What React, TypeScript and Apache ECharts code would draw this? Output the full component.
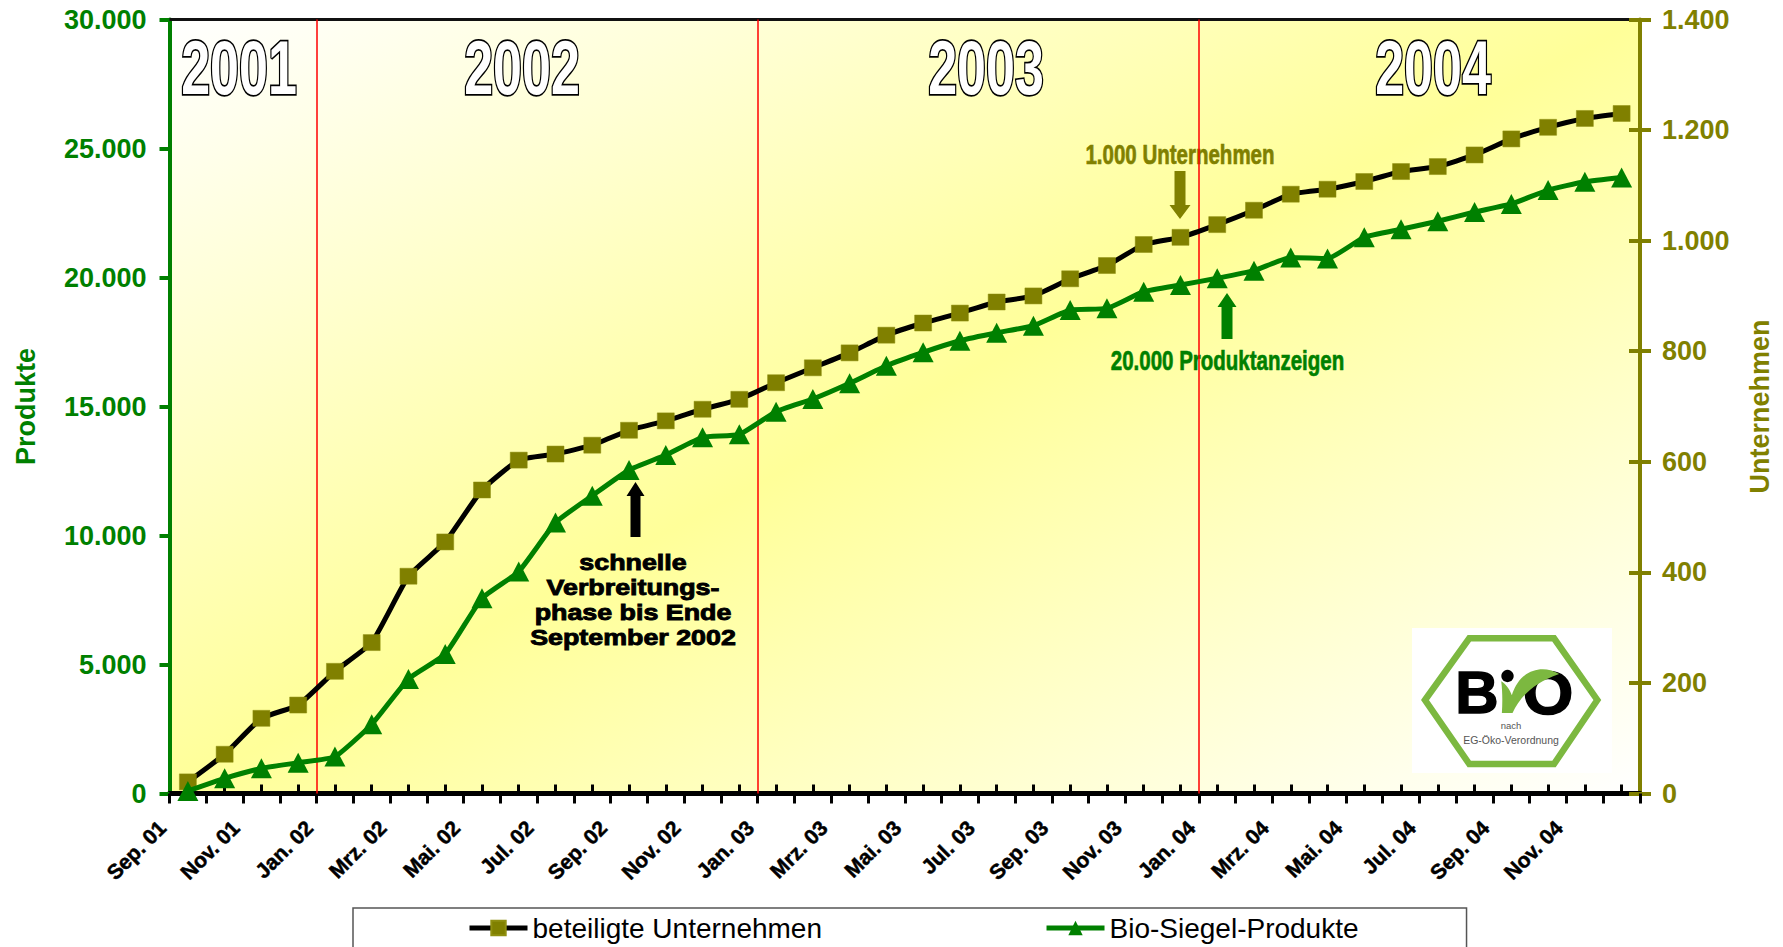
import React, { useEffect, useRef } from "react";
import * as echarts from "echarts";

const months = [
  "Sep. 01","Okt. 01","Nov. 01","Dez. 01","Jan. 02","Feb. 02","Mrz. 02","Apr. 02","Mai. 02","Jun. 02","Jul. 02","Aug. 02",
  "Sep. 02","Okt. 02","Nov. 02","Dez. 02","Jan. 03","Feb. 03","Mrz. 03","Apr. 03","Mai. 03","Jun. 03","Jul. 03","Aug. 03",
  "Sep. 03","Okt. 03","Nov. 03","Dez. 03","Jan. 04","Feb. 04","Mrz. 04","Apr. 04","Mai. 04","Jun. 04","Jul. 04","Aug. 04",
  "Sep. 04","Okt. 04","Nov. 04","Dez. 04",
];
const tickMonths = [...months, " "];
const companies = [
  21, 71, 136, 160, 221, 273, 393, 455, 549, 603, 614, 630, 657, 674, 695, 713, 743, 770, 797, 829,
  851, 869, 889, 900, 931, 955, 993, 1006, 1029, 1055, 1084, 1093, 1107, 1125, 1134, 1155, 1184, 1205, 1221, 1230,
];
const products = [
  100, 590, 975, 1195, 1430, 2680, 4440, 5407, 7565, 8600, 10500, 11545, 12540, 13120, 13805, 13920, 14800, 15290, 15900, 16580,
  17100, 17550, 17860, 18130, 18740, 18805, 19450, 19710, 19970, 20265, 20780, 20740, 21560, 21870, 22180, 22540, 22850, 23390, 23710, 23880,
];
const yearStarts = ["Jan. 02", "Jan. 03", "Jan. 04"];
const years = [
  { label: "2001", x: 239 },
  { label: "2002", x: 522 },
  { label: "2003", x: 986 },
  { label: "2004", x: 1433 },
];

const GREEN = "#008000";
const OLIVE = "#808000";
const FONT = "'Liberation Sans', Arial, sans-serif";
const de = (v: number) => String(v).replace(/\B(?=(\d{3})+$)/g, ".");

const swoosh =
  "M366 309 L398 309 C418 268 452 222 538 192 C505 172 462 172 430 200 C412 216 402 238 396 256 C390 240 380 224 364 214 C368 245 368 280 366 309 Z";
echarts.graphic.registerShape("bioSwoosh", echarts.graphic.extendPath(swoosh, {}));

const arrow = (cx: number, y1: number, y2: number, shaft: number, head: number, headLen: number, fill: string) => {
  const dir = y2 > y1 ? 1 : -1;
  return {
    type: "polygon",
    shape: {
      points: [
        [cx - shaft / 2, y1],
        [cx + shaft / 2, y1],
        [cx + shaft / 2, y2 - dir * headLen],
        [cx + head / 2, y2 - dir * headLen],
        [cx, y2],
        [cx - head / 2, y2 - dir * headLen],
        [cx - shaft / 2, y2 - dir * headLen],
      ],
    },
    style: { fill },
    silent: true,
  };
};

const label = (text: string, x: number, y: number, fontSize: number, fill: string, extra: any = {}) => ({
  type: "text",
  x,
  y,
  scaleX: extra.scaleX ?? 1,
  scaleY: extra.scaleY ?? 1,
  silent: true,
  style: {
    text,
    x: 0,
    y: 0,
    fill,
    font: `${extra.weight ?? "bold"} ${fontSize}px ${FONT}`,
    textAlign: "center",
    textVerticalAlign: "middle",
    stroke: extra.stroke,
    lineWidth: extra.lineWidth,
    lineHeight: extra.lineHeight,
  },
});

export default function App() {
  const ref = useRef<HTMLDivElement>(null);
  useEffect(() => {
    document.body.style.margin = "0";
    document.body.style.overflow = "hidden";
    const chart = echarts.init(ref.current!, undefined, { renderer: "svg" });
    chart.setOption({
      animation: false,
      backgroundColor: "#fff",
      grid: {
        show: true,
        left: 169.5,
        top: 19.5,
        width: 1470.5,
        height: 774,
        borderWidth: 0,
        backgroundColor: new echarts.graphic.LinearGradient(0, 0, 1, 1, [
          { offset: 0, color: "#ffffff" },
          { offset: 0.5, color: "#ffff99" },
          { offset: 1, color: "#ffffff" },
        ]),
      },
      legend: {
        left: 353,
        top: 908,
        orient: "horizontal",
        width: 1110,
        padding: [6, 108, 60, 114],
        itemGap: 222,
        itemWidth: 58,
        itemHeight: 18,
        borderColor: "#555",
        borderWidth: 1.5,
        backgroundColor: "#fff",
        lineStyle: { width: 5 },
        data: ["beteiligte Unternehmen", "Bio-Siegel-Produkte"],
        textStyle: { fontFamily: FONT, fontSize: 28, color: "#000" },
      },
      xAxis: [
        {
          type: "category",
          position: "bottom",
          boundaryGap: true,
          data: months,
          axisLine: { show: true, onZero: false, lineStyle: { color: "#000", width: 5 } },
          axisTick: { show: true, inside: true, alignWithLabel: true, interval: 0, length: 9, lineStyle: { color: "#000", width: 3 } },
          axisLabel: { show: false },
          splitLine: { show: false },
        },
        {
          type: "category",
          position: "bottom",
          boundaryGap: false,
          data: tickMonths,
          axisLine: { show: false, onZero: false },
          axisTick: { show: true, interval: 0, length: 10, lineStyle: { color: "#000", width: 3 } },
          axisLabel: {
            show: true,
            interval: 1,
            rotate: 45,
            margin: 38,
            verticalAlign: "bottom",
            fontFamily: FONT,
            fontWeight: "bold",
            fontSize: 21,
            color: "#000",
            textBorderColor: "#000",
            textBorderWidth: 0.5,
          },
          splitLine: { show: false },
        },
        {
          type: "category",
          position: "top",
          data: months,
          axisLine: { show: true, onZero: false, lineStyle: { color: "#111", width: 3 } },
          axisTick: { show: false },
          axisLabel: { show: false },
          splitLine: { show: false },
        },
      ],
      yAxis: [
        {
          type: "value",
          position: "left",
          min: 0,
          max: 30000,
          interval: 5000,
          name: "Produkte",
          nameLocation: "middle",
          nameRotate: 90,
          nameGap: 130,
          nameTextStyle: { color: GREEN, fontFamily: FONT, fontWeight: "bold", fontSize: 27 },
          axisLine: { show: true, lineStyle: { color: GREEN, width: 4 } },
          axisTick: { show: true, length: 10, lineStyle: { color: GREEN, width: 4 } },
          axisLabel: { color: GREEN, fontFamily: FONT, fontWeight: "bold", fontSize: 27, margin: 23, formatter: de },
          splitLine: { show: false },
        },
        {
          type: "value",
          position: "right",
          min: 0,
          max: 1400,
          interval: 200,
          name: "Unternehmen",
          nameLocation: "middle",
          nameRotate: 90,
          nameGap: 106,
          nameTextStyle: { color: OLIVE, fontFamily: FONT, fontWeight: "bold", fontSize: 27 },
          axisLine: { show: true, lineStyle: { color: OLIVE, width: 4 } },
          axisTick: { show: true, length: 11, lineStyle: { color: OLIVE, width: 4 } },
          axisLabel: { color: OLIVE, fontFamily: FONT, fontWeight: "bold", fontSize: 27, margin: 22, formatter: de },
          splitLine: { show: false },
        },
        {
          type: "value",
          position: "right",
          min: 0,
          max: 1400,
          interval: 200,
          axisLine: { show: false },
          axisTick: { show: true, inside: true, length: 11, lineStyle: { color: OLIVE, width: 4 } },
          axisLabel: { show: false },
          splitLine: { show: false },
        },
      ],
      series: [
        {
          name: "Jahreswechsel",
          type: "line",
          xAxisIndex: 1,
          yAxisIndex: 2,
          data: tickMonths.map(() => null),
          showSymbol: false,
          z: 1,
          markLine: {
            silent: true,
            symbol: "none",
            z: 1,
            label: { show: false },
            lineStyle: { color: "#ff0000", width: 1.5, type: "solid" },
            data: yearStarts.map((m) => ({ xAxis: m })),
          },
        },
        {
          name: "Rahmen",
          type: "line",
          xAxisIndex: 2,
          yAxisIndex: 0,
          data: months.map(() => null),
          showSymbol: false,
        },
        {
          name: "beteiligte Unternehmen",
          type: "line",
          xAxisIndex: 0,
          yAxisIndex: 1,
          data: companies,
          smooth: 0.15,
          clip: false,
          symbol: "rect",
          symbolSize: [17, 16],
          showSymbol: true,
          showAllSymbol: true,
          z: 3,
          lineStyle: { color: "#000", width: 5 },
          itemStyle: { color: OLIVE, borderColor: "#8f8f10", borderWidth: 0.5 },
        },
        {
          name: "Bio-Siegel-Produkte",
          type: "line",
          xAxisIndex: 0,
          yAxisIndex: 0,
          data: products,
          smooth: 0.15,
          clip: false,
          symbol: "triangle",
          symbolSize: [21, 20],
          showSymbol: true,
          showAllSymbol: true,
          z: 4,
          lineStyle: { color: GREEN, width: 5 },
          itemStyle: { color: GREEN },
        },
      ],
      graphic: [
        ...years.map((y) =>
          label(y.label, y.x, 67.5, 52, "#ffffff", { scaleY: 1.45, stroke: "#000", lineWidth: 2.4 })
        ),
        label("1.000 Unternehmen", 1180, 154, 20.5, OLIVE, { scaleY: 1.35, stroke: OLIVE, lineWidth: 0.5 }),
        arrow(1180, 171, 219, 11, 21, 14, OLIVE),
        label("20.000 Produktanzeigen", 1227.5, 360, 20.5, GREEN, { scaleY: 1.35, stroke: GREEN, lineWidth: 0.5 }),
        arrow(1227, 339, 293, 11, 19, 14, GREEN),
        arrow(635.5, 537, 482, 10, 18, 14, "#000"),
        label("schnelle\nVerbreitungs-\nphase bis Ende\nSeptember 2002", 633, 600, 22, "#000", {
          scaleX: 1.22,
          lineHeight: 25,
          stroke: "#000",
          lineWidth: 0.9,
        }),
        { type: "rect", shape: { x: 1412, y: 628, width: 200, height: 145 }, style: { fill: "#ffffff" }, silent: true },
        {
          type: "polygon",
          shape: {
            points: [
              [1425, 700],
              [1469.3, 638.3],
              [1554, 638.3],
              [1597.3, 700],
              [1554, 764],
              [1469.3, 764],
            ],
          },
          style: { fill: "#ffffff", stroke: "#7cb840", lineWidth: 6.5 },
          silent: true,
        },
        label("B", 1477, 692, 60, "#000", { stroke: "#000", lineWidth: 1.5 }),
        label("O", 1548, 692, 62, "#000", { scaleX: 1.05, stroke: "#000", lineWidth: 1.5 }),
        { type: "circle", shape: { cx: 1507.5, cy: 676, r: 6.2 }, style: { fill: "#000" }, silent: true },
        { type: "bioSwoosh", x: 1380, y: 610, scaleX: 1 / 3, scaleY: 1 / 3, style: { fill: "#7cb840" }, silent: true },
        label("nach", 1511, 725.5, 9.5, "#555", { weight: "normal" }),
        label("EG-Öko-Verordnung", 1511, 740, 10.5, "#555", { weight: "normal" }),
      ],
    });
    return () => chart.dispose();
  }, []);
  return <div ref={ref} style={{ position: "absolute", left: 0, top: 0, width: 1783, height: 947 }} />;
}
